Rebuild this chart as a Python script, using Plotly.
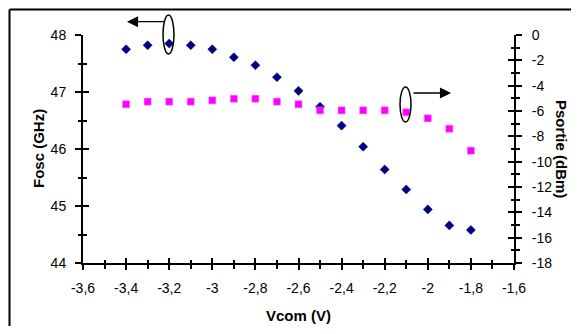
import plotly.graph_objects as go

# ---- data ----
vcom = [-3.4, -3.3, -3.2, -3.1, -3.0, -2.9, -2.8, -2.7, -2.6, -2.5, -2.4, -2.3, -2.2, -2.1, -2.0, -1.9, -1.8]
fosc = [47.75, 47.82, 47.85, 47.82, 47.75, 47.61, 47.47, 47.26, 47.02, 46.74, 46.41, 46.04, 45.64, 45.29, 44.94, 44.66, 44.58]
psortie = [-5.47, -5.26, -5.26, -5.26, -5.16, -5.03, -5.03, -5.26, -5.47, -5.95, -5.95, -5.95, -5.95, -6.10, -6.58, -7.40, -9.13]

x_ticks = [-3.6, -3.4, -3.2, -3.0, -2.8, -2.6, -2.4, -2.2, -2.0, -1.8, -1.6]
x_ticktext = ["-3,6", "-3,4", "-3,2", "-3", "-2,8", "-2,6", "-2,4", "-2,2", "-2", "-1,8", "-1,6"]
y_ticks = [44, 45, 46, 47, 48]
y2_ticks = [0, -2, -4, -6, -8, -10, -12, -14, -16, -18]
y2_ticktext = ["0", "-2", "-4", "-6", "-8", "-10", "-12", "-14", "-16", "-18"]

FONT = "Arial, Liberation Sans, sans-serif"
OFF = 8                      # page body margin
W, H = 579 - 2 * OFF, 334 - 2 * OFF
# target plot area in window pixels: x 83..514, y 35..263
PX0, PX1, PY0, PY1 = 83, 514, 35, 263
L, T = PX0 - OFF, PY0 - OFF
R, B = W - (PX1 - OFF), H - (PY1 - OFF)

fig = go.Figure()
fig.add_trace(go.Scatter(x=vcom, y=fosc, mode="markers", xaxis="x", yaxis="y",
                         marker=dict(symbol="diamond", size=7, color="#000080",
                                     line=dict(width=0.5, color="#000080")),
                         showlegend=False))
fig.add_trace(go.Scatter(x=vcom, y=psortie, mode="markers", xaxis="x", yaxis="y2",
                         marker=dict(symbol="square", size=7, color="#FF00FF",
                                     line=dict(width=0.5, color="#FF66FF")),
                         showlegend=False))
# dummy traces to realise the overlay axes used for crossing ticks
fig.add_trace(go.Scatter(x=[None], y=[None], xaxis="x3", yaxis="y3", showlegend=False, hoverinfo="skip"))
fig.add_trace(go.Scatter(x=[None], y=[None], xaxis="x", yaxis="y4", showlegend=False, hoverinfo="skip"))

common = dict(showgrid=False, zeroline=False, color="black", tickwidth=2,
              tickfont=dict(family=FONT, size=14, color="black"))
inner = dict(showline=False, ticks="inside", showticklabels=False, showgrid=False,
             zeroline=False, tickwidth=2, tickcolor="black")

fig.update_layout(
    width=W, height=H,
    margin=dict(l=L, r=R, t=T, b=B, pad=0),
    paper_bgcolor="white", plot_bgcolor="white",
    font=dict(family=FONT, size=14, color="black"),
    xaxis=dict(range=[-3.6, -1.6], tickvals=x_ticks, ticktext=x_ticktext,
               showline=True, linewidth=2, linecolor="black", ticks="outside", ticklen=5,
               minor=dict(ticks="outside", ticklen=3.5, dtick=0.1, tick0=-3.6, tickwidth=2, tickcolor="black"),
               anchor="y", ticklabelstandoff=6, **common),
    yaxis=dict(range=[44, 48], tickvals=y_ticks,
               showline=True, linewidth=2, linecolor="black", ticks="outside", ticklen=6,
               minor=dict(ticks="outside", ticklen=3.5, dtick=0.5, tick0=44, tickwidth=2, tickcolor="black"),
               anchor="x", ticklabelstandoff=6, **common),
    yaxis2=dict(range=[-18, 0], tickvals=y2_ticks, ticktext=y2_ticktext, overlaying="y", side="right",
                showline=True, linewidth=2, linecolor="black", ticks="outside", ticklen=6,
                minor=dict(ticks="outside", ticklen=3.5, dtick=1, tick0=0, tickwidth=2, tickcolor="black"),
                anchor="x", ticklabelstandoff=7, **common),
    xaxis3=dict(range=[-3.6, -1.6], tickvals=x_ticks, overlaying="x", anchor="y3", ticklen=5,
                minor=dict(ticks="inside", ticklen=3.5, dtick=0.1, tick0=-3.6, tickwidth=2, tickcolor="black"),
                **inner),
    yaxis3=dict(range=[44, 48], tickvals=y_ticks, overlaying="y", anchor="x3", ticklen=6,
                minor=dict(ticks="inside", ticklen=3.5, dtick=0.5, tick0=44, tickwidth=2, tickcolor="black"),
                **inner),
    yaxis4=dict(range=[-18, 0], tickvals=y2_ticks, overlaying="y", side="right", anchor="x", ticklen=6,
                minor=dict(ticks="inside", ticklen=3.5, dtick=1, tick0=0, tickwidth=2, tickcolor="black"),
                **inner),
)

pw, ph = PX1 - PX0, PY1 - PY0
def px(x):  # window pixel x -> paper
    return (x - PX0) / pw
def py(y):  # window pixel y -> paper
    return (PY1 - y) / ph

# outer frame (left and top edges visible)
fig.add_shape(type="line", xref="paper", yref="paper", x0=px(9.5), x1=px(9.5), y0=py(400), y1=py(9.5),
              line=dict(color="black", width=2))
fig.add_shape(type="line", xref="paper", yref="paper", x0=px(9.5), x1=px(700), y0=py(9.5), y1=py(9.5),
              line=dict(color="black", width=2))

# axis titles
TITLE = dict(family=FONT, size=15, color="black")
fig.add_annotation(xref="paper", yref="paper", x=px(298), y=py(315), xanchor="center", yanchor="middle",
                   text="<b>Vcom (V)</b>", showarrow=False, font=TITLE)
fig.add_annotation(xref="paper", yref="paper", x=px(38), y=py(149), xanchor="center", yanchor="middle",
                   text="<b>Fosc (GHz)</b>", showarrow=False, textangle=-90, font=TITLE)
fig.add_annotation(xref="paper", yref="paper", x=px(562), y=py(149), xanchor="center", yanchor="middle",
                   text="<b>Psortie (dBm)</b>", showarrow=False, textangle=90, font=TITLE)

# ellipses marking the series and arrows pointing to their axes
fig.add_shape(type="circle", xref="paper", yref="paper", x0=px(163), x1=px(174), y0=py(54), y1=py(15),
              line=dict(color="black", width=1.5))
fig.add_shape(type="circle", xref="paper", yref="paper", x0=px(400), x1=px(411), y0=py(122), y1=py(87),
              line=dict(color="black", width=1.5))
fig.add_annotation(xref="paper", yref="paper", x=px(127), y=py(21.7), ax=39, ay=0, text="",
                   showarrow=True, arrowhead=2, arrowsize=1.7, arrowwidth=1.3, arrowcolor="black")
fig.add_annotation(xref="paper", yref="paper", x=px(451), y=py(93), ax=-39, ay=0, text="",
                   showarrow=True, arrowhead=2, arrowsize=1.7, arrowwidth=1.3, arrowcolor="black")

fig.write_html("out.html")
